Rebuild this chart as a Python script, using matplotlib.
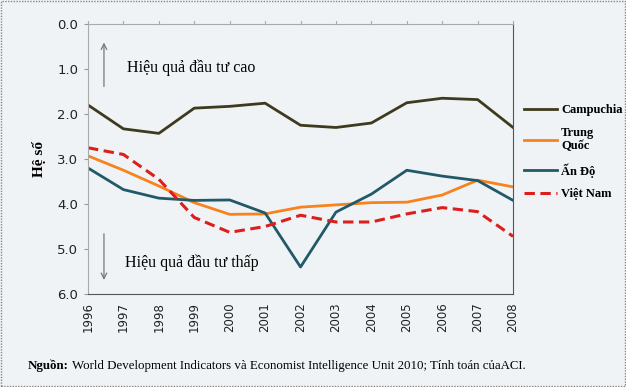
import matplotlib.pyplot as plt
from matplotlib.patches import Rectangle

# Data
years = list(range(1996, 2009))
campuchia = [1.80, 2.33, 2.43, 1.87, 1.83, 1.76, 2.25, 2.30, 2.20, 1.75, 1.65, 1.68, 2.30]
trung_quoc = [2.93, 3.25, 3.60, 3.97, 4.23, 4.22, 4.07, 4.02, 3.97, 3.96, 3.80, 3.47, 3.62]
an_do = [3.20, 3.68, 3.87, 3.92, 3.91, 4.20, 5.40, 4.18, 3.78, 3.25, 3.38, 3.48, 3.92]
viet_nam = [2.75, 2.90, 3.45, 4.30, 4.63, 4.50, 4.25, 4.40, 4.40, 4.22, 4.08, 4.17, 4.72]
yticks = [0.0, 1.0, 2.0, 3.0, 4.0, 5.0, 6.0]

serif = 'Liberation Serif'
bg = '#f0f3f6'

fig = plt.figure(figsize=(6.26, 3.87), dpi=100, facecolor=bg)
ax = fig.add_axes([0.1406, 0.2403, 0.679, 0.6977], facecolor=bg)

ax.plot(years, campuchia, color='#3d3a1e', lw=2, label='Campuchia')
ax.plot(years, trung_quoc, color='#f7821e', lw=2, label='Trung\nQuốc')
ax.plot(years, an_do, color='#215968', lw=2, label='Ấn Độ')
ax.plot(years, viet_nam, color='#dc1f1c', lw=2.2, ls=(0, (3.4, 1.8)), label='Việt Nam')

ax.set_xlim(1996, 2008)
ax.set_ylim(6, 0)
ax.set_yticks(yticks)
ax.set_yticklabels([f'{v:.1f}' for v in yticks], fontsize=9.5, color='#222222')
ax.set_xticks(years)
ax.set_xticklabels([str(y) for y in years], rotation=90, fontsize=8.5, color='#222222')
ax.tick_params(axis='x', length=0, pad=6)
ax.tick_params(axis='y', length=3, color='#999999', pad=4)

# top "axis" line at 0 with tick marks pointing up
ax.spines['top'].set_color('#aaaaaa')
ax.spines['left'].set_color('#aaaaaa')
ax.spines['right'].set_color('#555555')
ax.spines['bottom'].set_color('#555555')
for x in years:
    ax.plot([x, x], [0, -0.07], color='#aaaaaa', lw=0.8, clip_on=False)

ax.set_ylabel('Hệ số', fontfamily=serif, fontweight='bold', fontsize=11, labelpad=8)

# direction notes
ax.annotate('', xy=(1996.45, 0.35), xytext=(1996.45, 1.45),
            arrowprops=dict(arrowstyle='->', color='#777777', lw=0.9))
ax.text(1997.1, 0.97, 'Hiệu quả đầu tư cao', fontfamily=serif, fontsize=11.5, va='center')
ax.annotate('', xy=(1996.45, 5.75), xytext=(1996.45, 4.6),
            arrowprops=dict(arrowstyle='->', color='#777777', lw=0.9))
ax.text(1997.05, 5.3, 'Hiệu quả đầu tư thấp', fontfamily=serif, fontsize=11.5, va='center')

ax.legend(loc='upper left', bbox_to_anchor=(1.0, 0.745), frameon=False,
          handlelength=2.65, handletextpad=0.3, labelspacing=0.85,
          prop={'family': serif, 'weight': 'bold', 'size': 9})

# source note
t1 = fig.text(28 / 626, 1 - 366 / 387, 'Nguồn:', fontfamily=serif, fontweight='bold',
              fontsize=9.3, va='center')
ax.annotate(' World Development Indicators và Economist Intelligence Unit 2010; Tính toán củaACI.',
            xy=(1, 0.5), xycoords=t1, va='center', fontfamily=serif, fontsize=9.3,
            annotation_clip=False)

# dotted figure border
fig.patches.append(Rectangle((0.002, 0.003), 0.996, 0.994, transform=fig.transFigure,
                             fill=False, ec='#888888', lw=1, ls=(0, (1, 1))))

fig.savefig('out.png', dpi=100, facecolor=bg)
